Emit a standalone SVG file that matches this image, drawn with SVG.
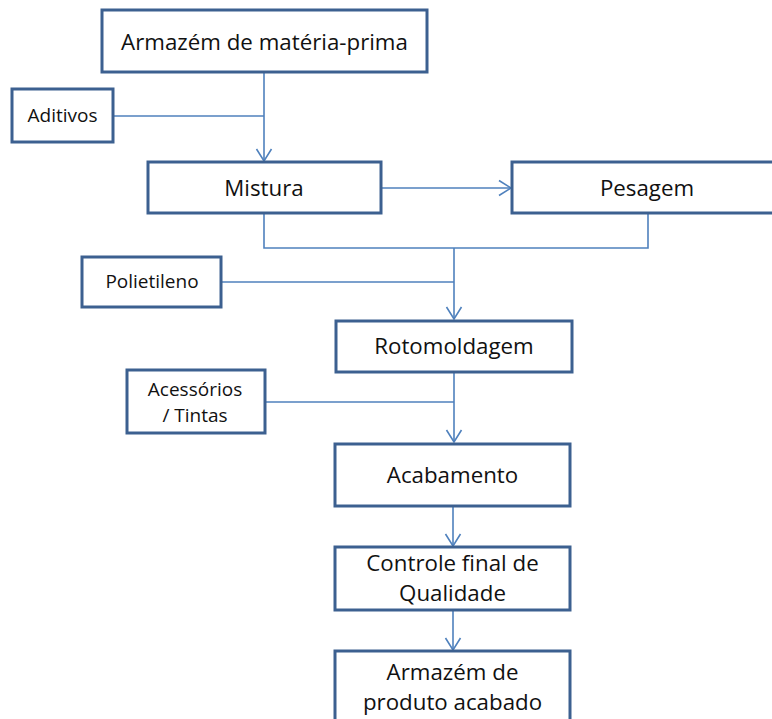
<svg xmlns="http://www.w3.org/2000/svg" width="772" height="719" viewBox="0 0 772 719">
<style>
.box{fill:#fff;stroke:#3C6090;stroke-width:3}
.t{font-family:"Open Sans","Liberation Sans",sans-serif;fill:#111;text-anchor:middle}
.big{font-size:22.3px}
.small{font-size:19px}
.ln{fill:none;stroke:#4F81BD;stroke-width:1.6}
</style>
<defs>
<marker id="arr" markerUnits="userSpaceOnUse" markerWidth="18" markerHeight="18" viewBox="-15 -9 18 18" refX="0" refY="0" orient="auto">
<path d="M-12,-7.5 L0,0 L-12,7.5" fill="none" stroke="#4F81BD" stroke-width="1.6"/>
</marker>
</defs>
<rect width="772" height="719" fill="#fff"/>
<g id="connectors">
<path class="ln" d="M264,72 V161" marker-end="url(#arr)"/>
<path class="ln" d="M113,116 H264"/>
<path class="ln" d="M381,188 H511" marker-end="url(#arr)"/>
<path class="ln" d="M264,213 V248 H454"/>
<path class="ln" d="M648,213 V248 H454"/>
<path class="ln" d="M454,248 V319" marker-end="url(#arr)"/>
<path class="ln" d="M221,282 H454"/>
<path class="ln" d="M454,372 V442" marker-end="url(#arr)"/>
<path class="ln" d="M265,402 H454"/>
<path class="ln" d="M453,506 V546" marker-end="url(#arr)"/>
<path class="ln" d="M453,610 V650" marker-end="url(#arr)"/>
</g>
<g id="armazem-mp">
<rect class="box" x="102" y="10" width="325" height="62"/>
<text class="t big" x="264.5" y="50">Armazém de matéria-prima</text>
</g>
<g id="aditivos">
<rect class="box" x="12" y="89" width="101" height="53"/>
<text class="t small" x="62.5" y="122">Aditivos</text>
</g>
<g id="mistura">
<rect class="box" x="148" y="162" width="233" height="51"/>
<text class="t big" x="264" y="196">Mistura</text>
</g>
<g id="pesagem">
<rect class="box" x="512" y="162" width="270" height="51"/>
<text class="t big" x="647" y="196">Pesagem</text>
</g>
<g id="polietileno">
<rect class="box" x="82" y="257" width="139" height="50"/>
<text class="t small" x="152" y="288">Polietileno</text>
</g>
<g id="rotomoldagem">
<rect class="box" x="336" y="321" width="236" height="51"/>
<text class="t big" x="454" y="354">Rotomoldagem</text>
</g>
<g id="acessorios">
<rect class="box" x="127" y="370" width="138" height="63"/>
<text class="t small" x="195" y="396">Acessórios</text>
<text class="t small" x="195" y="422">/ Tintas</text>
</g>
<g id="acabamento">
<rect class="box" x="335" y="444" width="235" height="62"/>
<text class="t big" x="452.5" y="483">Acabamento</text>
</g>
<g id="controle">
<rect class="box" x="335" y="547" width="235" height="63"/>
<text class="t big" x="452.5" y="571">Controle final de</text>
<text class="t big" x="452.5" y="601">Qualidade</text>
</g>
<g id="armazem-pa">
<rect class="box" x="335" y="651" width="235" height="80"/>
<text class="t big" x="452.5" y="680">Armazém de</text>
<text class="t big" x="452.5" y="710">produto acabado</text>
</g>
</svg>
